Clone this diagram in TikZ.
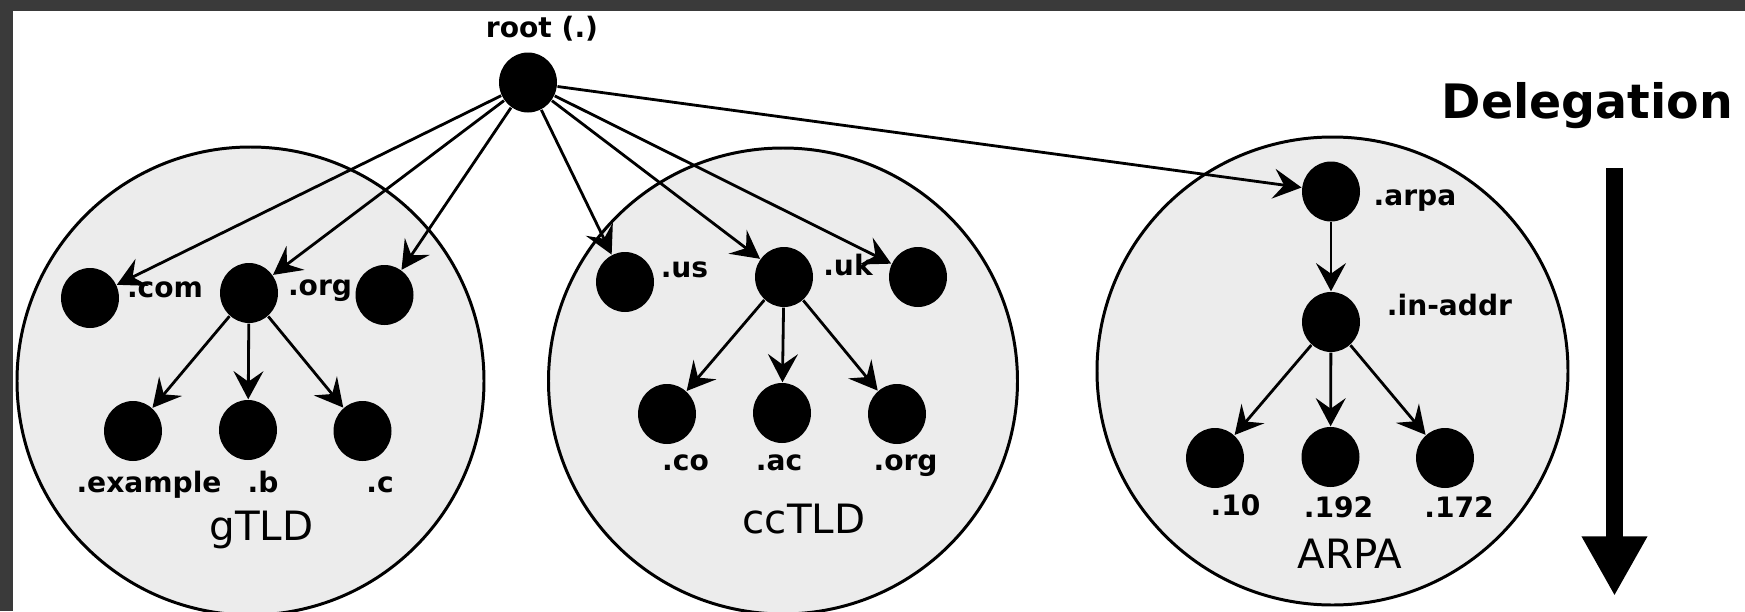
\documentclass[tikz,border=0pt]{standalone}
\usepackage{fontspec}
\setmainfont{DejaVu Sans}
\usetikzlibrary{arrows.meta, shapes.geometric, positioning}
\definecolor{zonebg}{RGB}{236, 236, 236}
\definecolor{framegray}{RGB}{58, 58, 58}

\begin{document}
\begin{tikzpicture}[
          dom/.style={ellipse, fill=black, minimum width=0.58cm, minimum height=0.6cm, inner sep=0pt},
          zone/.style={ellipse, draw, line width=0.85pt, fill=zonebg, inner sep=0pt},
          lbl/.style={font=\fontsize{8}{9}\selectfont\bfseries, inner sep=0pt, anchor=base},
          zlbl/.style={font=\fontsize{11.5}{13}\selectfont, inner sep=0pt, anchor=base},
          arr/.style={-{Stealth[length=8pt, width=8.5pt, inset=3pt]}, line width=0.8pt},
        ]
        \useasboundingbox (0,0) rectangle (17.45,6.11);
        \fill[framegray] (0,0) rectangle (17.45,6.11);
        \fill[white] (0.13,0) rectangle (17.45,6.00);

        % the three zones
        \node[zone, minimum width=4.67cm, minimum height=4.68cm] (gzone) at (2.505,2.30) {};
        \node[zone, minimum width=4.69cm, minimum height=4.66cm] (czone) at (7.83,2.30) {};
        \node[zone, minimum width=4.71cm, minimum height=4.68cm] (azone) at (13.325,2.40) {};

        % root
        \node[dom] (root) at (5.28,5.285) {};
        \node[lbl] (rootlbl) at (5.42,5.74) {root (.)};

        % gTLD
        \node[dom] (com)  at (0.90,3.13) {};
        \node[dom] (gorg) at (2.49,3.18) {};
        \node[dom] (gnet) at (3.845,3.16) {};
        \node[dom] (ex)   at (1.33,1.80) {};
        \node[dom] (gb)   at (2.48,1.81) {};
        \node[dom] (gc)   at (3.625,1.80) {};
        \node[lbl] at (1.65,3.14) {.com};
        \node[lbl] at (3.20,3.16) {.org};
        \node[lbl] at (1.49,1.19) {.example};
        \node[lbl] at (2.63,1.19) {.b};
        \node[lbl] at (3.80,1.19) {.c};
        \node[zlbl] at (2.615,0.71) {gTLD};

        % ccTLD
        \node[dom] (us)   at (6.25,3.29) {};
        \node[dom] (uk)   at (7.84,3.34) {};
        \node[dom] (cc3)  at (9.18,3.34) {};
        \node[dom] (co)   at (6.67,1.97) {};
        \node[dom] (ac)   at (7.82,1.98) {};
        \node[dom] (corg) at (8.97,1.97) {};
        \node[lbl] at (6.845,3.34) {.us};
        \node[lbl] at (8.48,3.36) {.uk};
        \node[lbl] at (6.855,1.41) {.co};
        \node[lbl] at (7.79,1.41) {.ac};
        \node[lbl] at (9.056,1.41) {.org};
        \node[zlbl] at (8.04,0.78) {ccTLD};

        % ARPA
        \node[dom] (arpa)   at (13.31,4.195) {};
        \node[dom] (inaddr) at (13.31,2.89) {};
        \node[dom] (ten)    at (12.15,1.53) {};
        \node[dom] (oneninetwo) at (13.305,1.54) {};
        \node[dom] (oneseventwo) at (14.45,1.53) {};
        \node[lbl] at (14.15,4.06) {.arpa};
        \node[lbl] at (14.495,2.96) {.in-addr};
        \node[lbl] at (12.355,0.96) {.10};
        \node[lbl] at (13.386,0.94) {.192};
        \node[lbl] at (14.59,0.94) {.172};
        \node[zlbl] at (13.50,0.43) {ARPA};

        \draw[arr] (root) -- (com);
        \draw[arr] (root) -- (gorg);
        \draw[arr] (root) -- (gnet);
        \draw[arr] (root) -- (us);
        \draw[arr] (root) -- (uk);
        \draw[arr] (root) -- (cc3);
        \draw[arr] (root) -- (arpa);
        \draw[arr] (gorg) -- (ex);
        \draw[arr] (gorg) -- (gb);
        \draw[arr] (gorg) -- (gc);
        \draw[arr] (uk) -- (co);
        \draw[arr] (uk) -- (ac);
        \draw[arr] (uk) -- (corg);
        \draw[arr] (arpa) -- (inaddr);
        \draw[arr] (inaddr) -- (ten);
        \draw[arr] (inaddr) -- (oneninetwo);
        \draw[arr] (inaddr) -- (oneseventwo);

        % delegation
        \node[font=\fontsize{13.5}{16}\selectfont\bfseries, inner sep=0pt, anchor=base] (deleg) at (15.875,4.93) {Delegation};
        \coordinate (dtop) at (16.145,4.43);
        \coordinate (dtip) at (16.145,0.15);
        \draw[line width=5pt, -{Triangle[length=17pt, width=17.5pt]}] (dtop) -- (dtip);
      \end{tikzpicture}
\end{document}
